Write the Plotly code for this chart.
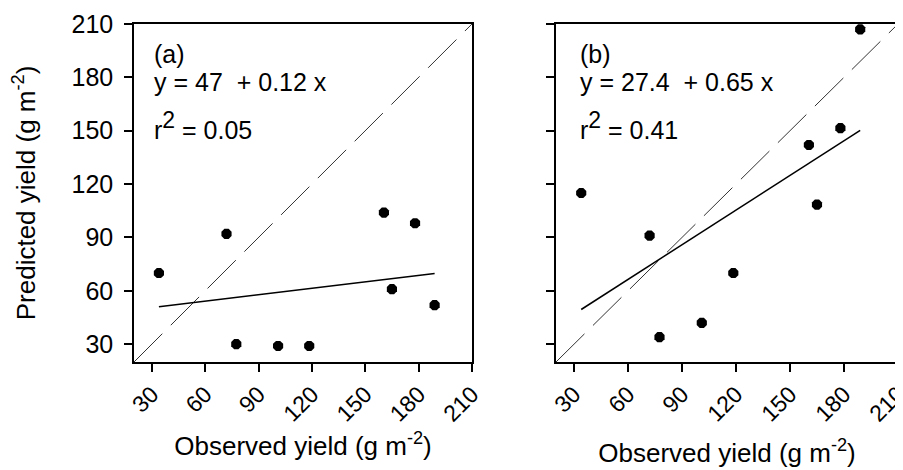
import plotly.graph_objects as go

observed = [34, 72, 77.5, 101, 118.5, 160.5, 165, 178, 189]
predicted_a = [70, 92, 30, 29, 29, 104, 61, 98, 52]
predicted_b = [115, 91, 34, 42, 70, 142, 108.5, 151.5, 207]
fit_a = (47, 0.12)
fit_b = (27.4, 0.65)
fit_x = [min(observed), max(observed)]
one_to_one = [20, 210]
tick_vals = [30, 60, 90, 120, 150, 180, 210]
R2 = "r<sup><span style='font-size:23px'>2</span></sup>"
labels_a = ["(a)", "y = 47  + 0.12 x", R2 + " = 0.05"]
labels_b = ["(b)", "y = 27.4  + 0.65 x", R2 + " = 0.41"]

FONT = "Liberation Sans, Arial, sans-serif"
fig = go.Figure()

for i, (pred, fit) in enumerate([(predicted_a, fit_a), (predicted_b, fit_b)]):
    xa = "x" if i == 0 else "x2"
    ya = "y" if i == 0 else "y2"
    fig.add_trace(go.Scatter(x=one_to_one, y=one_to_one, mode="lines",
                             line=dict(color="#333", width=1, dash="40px,12px"),
                             xaxis=xa, yaxis=ya, showlegend=False))
    fig.add_trace(go.Scatter(x=fit_x, y=[fit[0] + fit[1] * v for v in fit_x], mode="lines",
                             line=dict(color="black", width=1.5),
                             xaxis=xa, yaxis=ya, showlegend=False))
    fig.add_trace(go.Scatter(x=observed, y=pred, mode="markers",
                             marker=dict(color="black", size=11, symbol="octagon"),
                             xaxis=xa, yaxis=ya, showlegend=False))

axis_common = dict(range=[20, 210], tickvals=tick_vals, showgrid=False, zeroline=False,
                   showline=True, linecolor="black", linewidth=1.5, mirror=True,
                   ticks="outside", ticklen=8, tickcolor="black", tickwidth=1.5,
                   automargin=False)

fig.update_layout(
    width=895, height=462,
    margin=dict(l=0, r=0, t=0, b=0),
    paper_bgcolor="white", plot_bgcolor="white",
    font=dict(family=FONT, color="black"),
    xaxis=dict(domain=[0.1408, 0.5184], anchor="y", tickangle=-45,
               tickfont=dict(size=23), ticklabeloverflow="allow",
               title=dict(text="Observed yield (g m<sup>-2</sup>)", font=dict(size=26), standoff=11),
               **axis_common),
    yaxis=dict(domain=[0.2338, 0.9654], anchor="x", tickfont=dict(size=25),
               ticklabelstandoff=6,
               title=dict(text="Predicted yield (g m<sup>-2</sup>)", font=dict(size=26), standoff=29),
               **axis_common),
    xaxis2=dict(domain=[0.6123, 0.9944], anchor="y2", tickangle=-45,
                tickfont=dict(size=23), ticklabeloverflow="allow",
                title=dict(text="Observed yield (g m<sup>-2</sup>)", font=dict(size=26), standoff=18),
                **axis_common),
    yaxis2=dict(domain=[0.2338, 0.9654], anchor="x2", showticklabels=False,
                **axis_common),
)

ys = [193, 177.5, 153]
for i, labels in enumerate([labels_a, labels_b]):
    xa = "x" if i == 0 else "x2"
    ya = "y" if i == 0 else "y2"
    for txt, yv in zip(labels, ys):
        fig.add_annotation(x=30 if i == 0 else 32, y=yv, xref=xa, yref=ya, text=txt,
                           showarrow=False, xanchor="left", yanchor="middle",
                           font=dict(size=25, family=FONT, color="black"))

fig.write_html("out.html")
